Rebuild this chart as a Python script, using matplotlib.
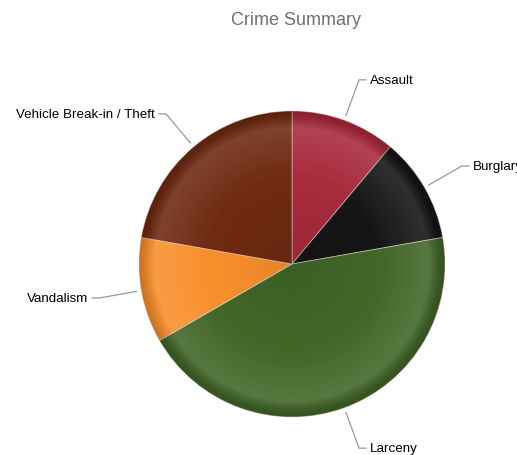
import numpy as np
import matplotlib.pyplot as plt
from matplotlib.patches import Circle

# values (share of incidents)
crimes = ["Assault", "Burglary", "Larceny", "Vandalism", "Vehicle Break-in / Theft"]
counts = [5, 5, 20, 5, 10]
colors = ["#a82a3c", "#151515", "#416628", "#f98f2c", "#6f2a12"]

W, H = 517, 456
cx, cy, R = 292, H - 265, 153

plt.rcParams['font.family'] = ['Liberation Sans', 'DejaVu Sans']

fig = plt.figure(figsize=(W / 100, H / 100), dpi=100)
ax = fig.add_axes([0, 0, 1, 1])

wedges, _ = ax.pie(counts, colors=colors, startangle=90, counterclock=False,
                   center=(cx, cy), radius=R, frame=True,
                   wedgeprops=dict(edgecolor=(0.9, 0.85, 0.82, 0.6), linewidth=0.6))
ax.set_xlim(0, W)
ax.set_ylim(0, H)
ax.set_aspect('equal')
ax.axis('off')

# radial shading like the original: lighter ring near the rim, darker edge
n = 400
gx, gy = np.meshgrid(np.linspace(-1, 1, n), np.linspace(-1, 1, n))
rr = np.sqrt(gx ** 2 + gy ** 2)
light = np.clip((rr - 0.55) / 0.33, 0, 1) * 0.11
light[rr > 0.9] = 0.11 * np.clip((0.97 - rr[rr > 0.9]) / 0.07, 0, 1)
dark = np.clip((rr - 0.9) / 0.1, 0, 1) * 0.2
inner = np.clip((0.5 - rr) / 0.5, 0, 1) * 0.08

for rgb, alpha in [((1, 1, 1), light), ((0, 0, 0), dark), ((0, 0, 0), inner)]:
    layer = np.zeros((n, n, 4))
    layer[..., :3] = rgb
    layer[..., 3] = alpha
    img = ax.imshow(layer, extent=(cx - R, cx + R, cy - R, cy + R), zorder=3)
    img.set_clip_path(Circle((cx, cy), R, transform=ax.transData))

# connectors and labels
total = sum(counts)
start = 0.0
for name, c in zip(crimes, counts):
    mid = np.radians((start + c / 2) / total * 360)
    start += c
    s, co = np.sin(mid), np.cos(mid)
    x0, y0 = cx + (R + 5) * s, cy + (R + 5) * co
    x1, y1 = cx + (R + 43) * s, cy + (R + 43) * co
    side = 1 if s >= 0 else -1
    x2 = x1 + side * 7
    ax.plot([x0, x1, x2], [y0, y1, y1], color='#999999', lw=0.9, zorder=4)
    ax.text(x2 + side * 4, y1, name, ha='left' if side > 0 else 'right',
            va='center', fontsize=9.6, color='#000000', zorder=5)

ax.text(296, H - 20, "Crime Summary", ha='center', va='center',
        fontsize=13, color='#707070')

fig.savefig("out.png", dpi=100)
